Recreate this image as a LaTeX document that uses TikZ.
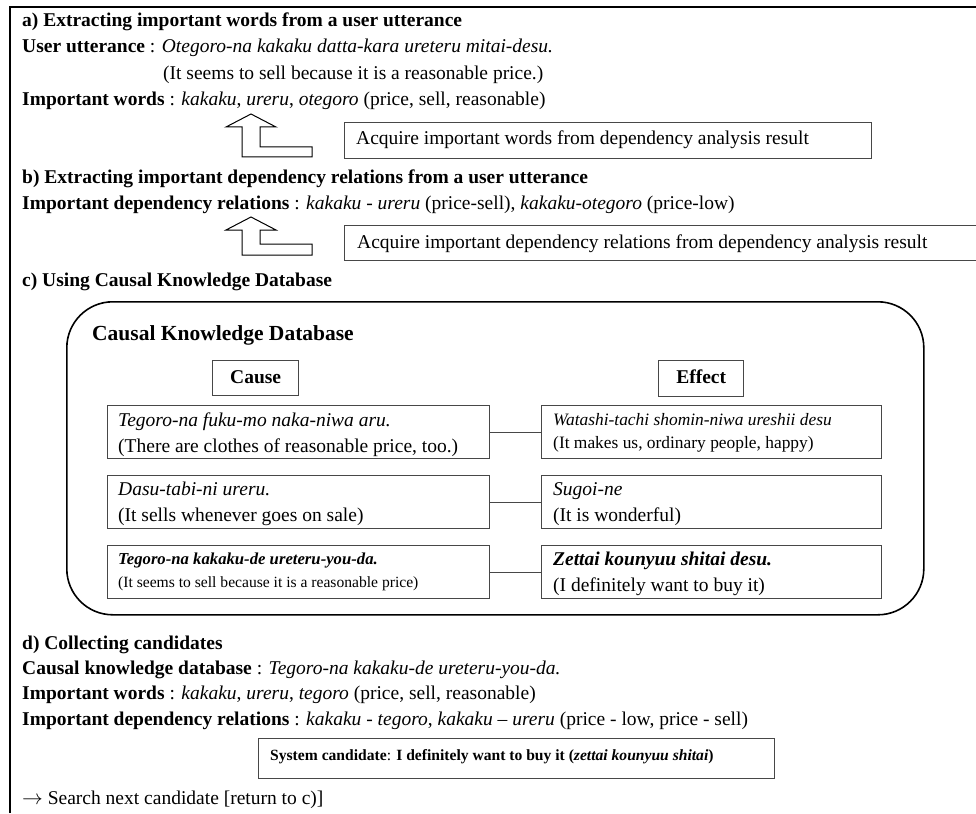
\documentclass[tikz,border=0pt]{standalone}
\usepackage{fontspec}
\setmainfont{Liberation Serif}
\begin{document}
\begin{tikzpicture}[x=1pt,y=-1pt,
  txt/.style={anchor=base west,inner sep=0pt,font=\fontsize{19.5}{23}\selectfont},
  mid/.style={anchor=base west,inner sep=0pt,font=\fontsize{17.4}{20}\selectfont},
  cmid/.style={anchor=base west,inner sep=0pt,font=\fontsize{16.7}{20}\selectfont},
  sml/.style={anchor=base west,inner sep=0pt,font=\fontsize{15.6}{18}\selectfont},
  big/.style={anchor=base west,inner sep=0pt,font=\fontsize{21.5}{25}\selectfont\bfseries},
  box/.style={draw=black!72,line width=1.3pt,inner sep=0pt,anchor=north west},
  hollow/.style={draw=black,line width=1pt,fill=white,line join=miter}]
\useasboundingbox (0,0) rectangle (976,813);
% outer frame
\draw[line width=2pt] (10,813) -- (10,7) -- (976,7);
% a)
\node[txt] (ta) at (22,27) {\textbf{a) Extracting important words from a user utterance}};
\node[txt] (ua) at (22,53) {\textbf{User utterance} : \textit{Otegoro-na kakaku datta-kara ureteru mitai-desu.}};
\node[txt] (ub) at (163,80) {(It seems to sell because it is a reasonable price.)};
\node[txt] (iw) at (22,106) {\textbf{Important words} : \textit{kakaku}, \textit{ureru}, \textit{otegoro} (price, sell, reasonable)};
% arrow 1
\draw[hollow] (251,114) -- (276,127) -- (260,127) -- (260,147) -- (312,147) -- (312,157) -- (242,157) -- (242,127) -- (226,127) -- cycle;
\node[box,minimum width=527pt,minimum height=36pt] (k1) at (344,122) {};
\node[txt] (k1t) at (356,145) {Acquire important words from dependency analysis result};
% b)
\node[txt] (tb) at (22,183) {\textbf{b) Extracting important dependency relations from a user utterance}};
\node[txt] (idr) at (22,209) {\textbf{Important dependency relations} : \textit{kakaku - ureru} (price-sell), \textit{kakaku-otegoro} (price-low)};
% arrow 2
\draw[hollow] (251,217) -- (276,230) -- (260,230) -- (260,244) -- (312,244) -- (312,255) -- (242,255) -- (242,230) -- (226,230) -- cycle;
\node[box,minimum width=650pt,minimum height=35pt] (k2) at (344,225) {};
\node[txt] (k2t) at (357,248) {Acquire important dependency relations from dependency analysis result};
% c)
\node[txt] (tc) at (22,286) {\textbf{c) Using Causal Knowledge Database}};
\node[draw,line width=1.6pt,rounded corners=46pt,minimum width=857pt,minimum height=313pt,anchor=north west,inner sep=0pt] (db) at (66,301) {};
\node[big] (dbt) at (92,340) {Causal Knowledge Database};
\node[box,minimum width=86pt,minimum height=35pt] (cause) at (212,360) {};
\node[txt,anchor=base] at (cause.center |- 0,383) {\textbf{Cause}};
\node[box,minimum width=85pt,minimum height=36pt] (effect) at (658,360) {};
\node[txt,anchor=base] at (effect.center |- 0,383) {\textbf{Effect}};
% cause / effect boxes
\node[box,minimum width=382pt,minimum height=53pt] (c1) at (107,405) {};
\node[box,minimum width=382pt,minimum height=53pt] (c2) at (107,475) {};
\node[box,minimum width=382pt,minimum height=53pt] (c3) at (107,545) {};
\node[box,minimum width=340pt,minimum height=53pt] (e1) at (541,405) {};
\node[box,minimum width=340pt,minimum height=53pt] (e2) at (541,475) {};
\node[box,minimum width=340pt,minimum height=53pt] (e3) at (541,545) {};
\draw[draw=black!72,line width=1.3pt] (c1.east) -- (e1.west);
\draw[draw=black!72,line width=1.3pt] (c2.east) -- (e2.west);
\draw[draw=black!72,line width=1.3pt] (c3.east) -- (e3.west);
\node[txt] (c1a) at (118,426) {\textit{Tegoro-na fuku-mo naka-niwa aru.}};
\node[txt] (c1b) at (118,452) {(There are clothes of reasonable price, too.)};
\node[mid] (e1a) at (553,425) {\textit{Watashi-tachi shomin-niwa ureshii desu}};
\node[mid] (e1b) at (553,448) {(It makes us, ordinary people, happy)};
\node[txt] (c2a) at (118,495) {\textit{Dasu-tabi-ni ureru.}};
\node[txt] (c2b) at (118,521) {(It sells whenever goes on sale)};
\node[txt] (e2a) at (553,495) {\textit{Sugoi-ne}};
\node[txt] (e2b) at (553,521) {(It is wonderful)};
\node[cmid] (c3a) at (118,564) {\textbf{\textit{Tegoro-na kakaku-de ureteru-you-da.}}};
\node[sml] (c3b) at (118,587) {(It seems to sell because it is a reasonable price)};
\node[txt] (e3a) at (553,565) {\textbf{\textit{Zettai kounyuu shitai desu.}}};
\node[txt] (e3b) at (553,591) {(I definitely want to buy it)};
% d)
\node[txt] (td) at (22,649) {\textbf{d) Collecting candidates}};
\node[txt] (d1) at (22,674) {\textbf{Causal knowledge database} : \textit{Tegoro-na kakaku-de ureteru-you-da.}};
\node[txt] (d2) at (22,699) {\textbf{Important words} : \textit{kakaku}, \textit{ureru}, \textit{tegoro} (price, sell, reasonable)};
\node[txt] (d3) at (22,725) {\textbf{Important dependency relations} : \textit{kakaku - tegoro}, \textit{kakaku – ureru} (price - low, price - sell)};
\node[box,minimum width=516pt,minimum height=40pt] (sc) at (258,738) {};
\node[sml] (sct) at (270,760) {\textbf{System candidate}: \textbf{I definitely want to buy it (\textit{zettai kounyuu shitai})}};
\node[txt] (srch) at (22,804) {$\rightarrow$ Search next candidate [return to c)]};
\end{tikzpicture}
\end{document}
